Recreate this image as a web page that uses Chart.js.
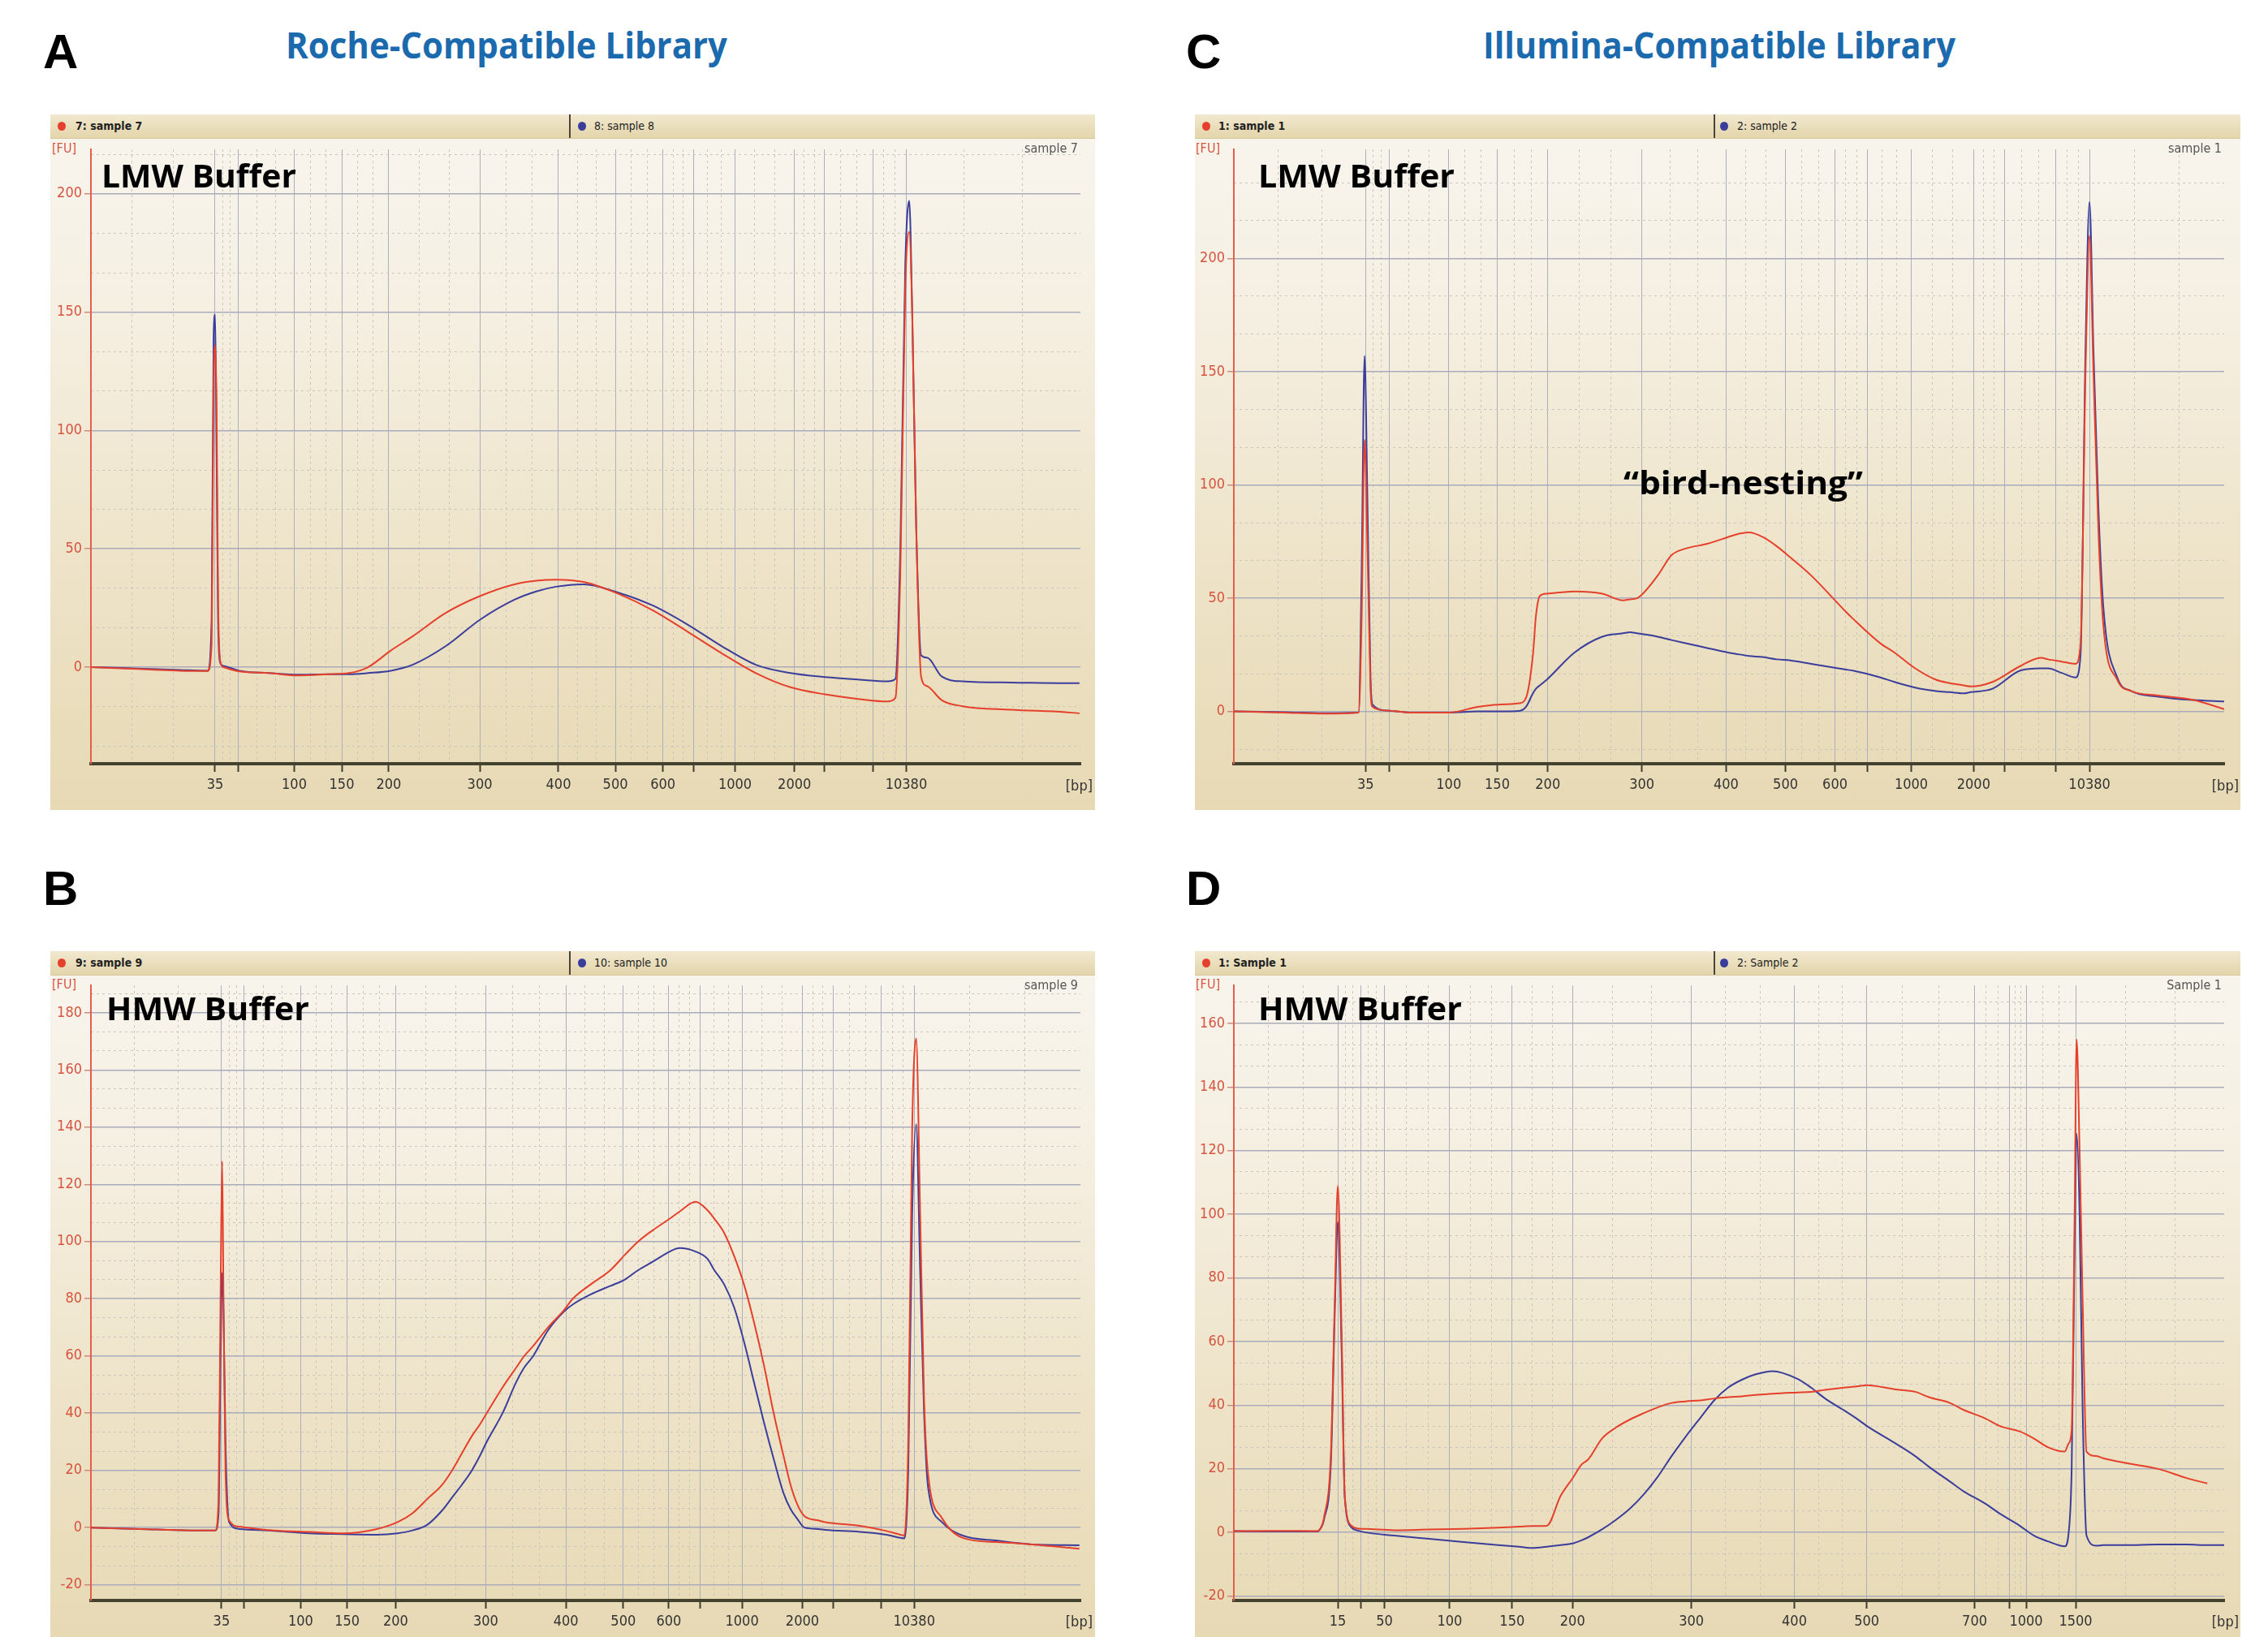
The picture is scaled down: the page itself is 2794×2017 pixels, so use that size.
<!DOCTYPE html>
<html>
<head>
<meta charset="utf-8">
<title>Bioanalyzer electropherograms</title>
<script src="https://cdn.jsdelivr.net/npm/chart.js@4.4.1/dist/chart.umd.min.js"></script>
<style>
html,body{margin:0;padding:0;background:#fff;}
body{position:relative;width:2794px;height:2017px;overflow:hidden;font-family:"Open Sans",sans-serif;}
.t{position:absolute;white-space:nowrap;line-height:1;transform-origin:0 0;}
.letter{font-family:"Liberation Sans",Arial,sans-serif;font-weight:700;font-size:60px;color:#000;}
.title{font-family:"Open Sans",sans-serif;font-weight:700;font-size:45px;color:#1b6aad;}
.buf{font-family:"Open Sans",sans-serif;font-weight:700;font-size:40px;color:#000;}
.panel{position:absolute;background:linear-gradient(to bottom,#f8f5ee 0%,#f5efe1 30%,#eee4ca 62%,#e7d9b4 100%);}
.hdr{position:absolute;left:0;right:0;top:0;height:29px;background:linear-gradient(to bottom,#f1e8cf,#e3d5ab);border-bottom:1px solid #d6c79e;font-family:"DejaVu Sans Condensed","DejaVu Sans",sans-serif;font-size:14px;color:#222;}
.hdr span{position:absolute;top:0;line-height:29px;white-space:nowrap;}
.dot{position:absolute;top:9px;width:10px;height:11px;border-radius:50%;}
.sep{position:absolute;top:0;width:2px;height:29px;background:#4a4538;}
.small{font-family:"DejaVu Sans Condensed","DejaVu Sans",sans-serif;font-size:16px;}
canvas{position:absolute;left:0;top:0;}
</style>
</head>
<body>

<div class="t letter" style="left:53px;top:34px;">A</div>
<div class="t letter" style="left:1461px;top:34px;">C</div>
<div class="t letter" style="left:53px;top:1065px;">B</div>
<div class="t letter" style="left:1461px;top:1065px;">D</div>
<div class="t title fit" data-w="544" style="left:352px;top:32px;">Roche-Compatible Library</div>
<div class="t title fit" data-w="582" style="left:1827px;top:32px;">Illumina-Compatible Library</div>

<!-- Panel A -->
<div class="panel" style="left:62px;top:141px;width:1287px;height:857px;">
  <canvas id="chartA" width="1287" height="857"></canvas>
  <div class="hdr">
    <div class="dot" style="left:9px;background:#e5402b;"></div>
    <span style="left:31px;font-weight:bold;">7: sample 7</span>
    <div class="sep" style="left:639px;"></div>
    <div class="dot" style="left:650px;background:#3b3d9b;"></div>
    <span style="left:670px;">8: sample 8</span>
  </div>
  <div class="t small" style="left:2px;top:34px;color:#d6543f;">[FU]</div>
  <div class="t small" style="right:21px;top:34px;color:#555;">sample 7</div>
  <div class="t small" style="right:3px;top:818px;color:#333;font-size:18px;">[bp]</div>
  <div class="t buf fit" data-w="240" style="left:63px;top:55px;">LMW Buffer</div>
</div>

<!-- Panel C -->
<div class="panel" style="left:1472px;top:141px;width:1288px;height:857px;">
  <canvas id="chartC" width="1288" height="857"></canvas>
  <div class="hdr">
    <div class="dot" style="left:9px;background:#e5402b;"></div>
    <span style="left:29px;font-weight:bold;">1: sample 1</span>
    <div class="sep" style="left:639px;"></div>
    <div class="dot" style="left:647px;background:#3b3d9b;"></div>
    <span style="left:668px;">2: sample 2</span>
  </div>
  <div class="t small" style="left:1px;top:34px;color:#d6543f;">[FU]</div>
  <div class="t small" style="right:23px;top:34px;color:#555;">sample 1</div>
  <div class="t small" style="right:2px;top:818px;color:#333;font-size:18px;">[bp]</div>
  <div class="t buf fit" data-w="242" style="left:78px;top:55px;">LMW Buffer</div>
  <div class="t buf fit" data-w="295" style="left:528px;top:433px;">“bird-nesting”</div>
</div>

<!-- Panel B -->
<div class="panel" style="left:62px;top:1172px;width:1287px;height:845px;">
  <canvas id="chartB" width="1287" height="845"></canvas>
  <div class="hdr">
    <div class="dot" style="left:9px;background:#e5402b;"></div>
    <span style="left:31px;font-weight:bold;">9: sample 9</span>
    <div class="sep" style="left:639px;"></div>
    <div class="dot" style="left:650px;background:#3b3d9b;"></div>
    <span style="left:670px;">10: sample 10</span>
  </div>
  <div class="t small" style="left:2px;top:33px;color:#d6543f;">[FU]</div>
  <div class="t small" style="right:21px;top:34px;color:#555;">sample 9</div>
  <div class="t small" style="right:3px;top:817px;color:#333;font-size:18px;">[bp]</div>
  <div class="t buf fit" data-w="250" style="left:69px;top:50px;">HMW Buffer</div>
</div>

<!-- Panel D -->
<div class="panel" style="left:1472px;top:1172px;width:1288px;height:845px;">
  <canvas id="chartD" width="1288" height="845"></canvas>
  <div class="hdr">
    <div class="dot" style="left:9px;background:#e5402b;"></div>
    <span style="left:29px;font-weight:bold;">1: Sample 1</span>
    <div class="sep" style="left:639px;"></div>
    <div class="dot" style="left:647px;background:#3b3d9b;"></div>
    <span style="left:668px;">2: Sample 2</span>
  </div>
  <div class="t small" style="left:1px;top:33px;color:#d6543f;">[FU]</div>
  <div class="t small" style="right:23px;top:34px;color:#555;">Sample 1</div>
  <div class="t small" style="right:2px;top:817px;color:#333;font-size:18px;">[bp]</div>
  <div class="t buf fit" data-w="251" style="left:78px;top:50px;">HMW Buffer</div>
</div>

<script>
// ================= DATA =================
// x = migration position (% of the run window shown), y = fluorescence [FU]

// ---- Panel A : Roche-compatible library, LMW buffer ----
const aTickPos    = [12.55, 14.85, 20.55, 25.35, 30.1, 39.3, 47.25, 53.0, 57.8, 60.9, 65.1, 71.1, 74.1, 79.0, 82.4];
const aTickLabels = ['35', '', '100', '150', '200', '300', '400', '500', '600', '', '1000', '2000', '', '', '10380'];
const aYTicks = [0, 50, 100, 150, 200];
const aPos     = [0, 3, 6, 9, 11.8, 12.2, 12.4, 12.55, 12.7, 12.85, 13.1, 13.4, 15, 18, 21, 24, 26.1, 28, 30.3, 32.5, 35.9, 39.3, 42.8, 45, 47, 49.8, 53.3, 56.8, 60.3, 63.7, 67.2, 70.7, 74.2, 77.7, 80.5, 81.3, 81.8, 82.3, 82.7, 83.0, 83.4, 83.9, 84.5, 86.0, 88.1, 93, 98.5, 99.9];
const aSample7 = [0, -0.5, -1, -1.5, -1.6, 10, 120, 136, 110, 30, 2, 0, -1.8, -2.5, -3.5, -3, -2.5, 0, 7, 13, 23, 30, 35, 36.5, 37, 36, 31, 24, 15, 6, -2.5, -8.5, -11.5, -13.5, -14.5, -13, 40, 160, 184, 150, 60, -4, -8, -14, -16.5, -18, -19, -19.5];
const aSample8 = [0, -0.3, -0.8, -1.2, -1.5, 20, 140, 149, 90, 20, 1.5, 0.5, -1.5, -2.5, -3.2, -3, -3, -2.5, -1.5, 1, 9, 20, 28.5, 32, 34, 35, 31.5, 26, 18, 9, 1, -2.5, -4.2, -5.3, -6, -5, 50, 170, 197, 150, 60, 5, 4, -4, -6, -6.5, -6.8, -6.8];

// ---- Panel C : Illumina-compatible library, LMW buffer ----
const cTickPos    = [13.3, 15.66, 21.7, 26.6, 31.7, 41.2, 49.7, 55.7, 60.7, 64.0, 68.4, 74.7, 77.8, 83.0, 86.4];
const cTickLabels = ['35', '', '100', '150', '200', '300', '400', '500', '600', '', '1000', '2000', '', '', '10380'];
const cYTicks = [0, 50, 100, 150, 200];
const cPos     = [0, 5, 9.1, 12.6, 12.9, 13.2, 13.5, 13.8, 14.0, 15.5, 18, 21.8, 24.6, 26.7, 28.8, 29.5, 30.2, 30.5, 30.9, 31.6, 34.4, 37.2, 39.3, 40.0, 40.7, 42.8, 44.2, 45.7, 47.8, 49.9, 50.6, 52.0, 53.4, 54.8, 56.2, 58.3, 61.8, 62.5, 65.3, 66.7, 68.8, 70.9, 72.3, 73.7, 74.4, 76.6, 79.4, 81.5, 82.2, 83.6, 85.0, 85.5, 86.0, 86.4, 86.8, 87.3, 87.8, 89.2, 90.6, 93.4, 96.9, 100];
const cSample1 = [0, -0.5, -1, -0.5, 40, 120, 70, 10, 2, 0.4, -0.5, -0.5, 2, 3, 3.6, 6, 25, 42, 51, 52, 53, 52, 49, 49.5, 50, 60, 69, 72, 74, 77, 78, 79, 77, 73, 68, 60, 44, 41, 30, 26, 19, 14, 12.5, 11.5, 11, 13, 20, 23.7, 23, 22, 21, 30, 150, 210, 150, 80, 38, 14, 9, 7, 5, 1];
const cSample2 = [0, -0.3, -0.8, -0.5, 60, 157, 90, 15, 3, 0.4, -0.5, -0.5, 0, 0, 0.2, 2, 8, 10, 11.5, 14, 26, 33, 34.5, 35, 34.5, 33, 31.5, 30, 28, 26, 25.5, 24.5, 24, 23, 22.5, 21, 18.5, 18, 15, 13, 10.5, 9, 8.5, 8, 8.5, 10, 18, 19, 19, 17, 15, 25, 160, 225, 160, 90, 46, 15, 9, 6.5, 5, 4.4];

// ---- Panel B : Roche-compatible library, HMW buffer ----
const bTickPos    = [13.2, 15.5, 21.2, 25.9, 30.8, 39.9, 48.0, 53.8, 58.4, 61.6, 65.8, 71.9, 75.0, 79.9, 83.2];
const bTickLabels = ['35', '', '100', '150', '200', '300', '400', '500', '600', '', '1000', '2000', '', '', '10380'];
const bYTicks = [-20, 0, 20, 40, 60, 80, 100, 120, 140, 160, 180];
const bPos      = [0, 5, 10, 12.57, 12.9, 13.1, 13.26, 13.4, 13.6, 13.96, 15.0, 18.5, 22.0, 25.5, 28.9, 31.0, 32.5, 34.0, 35.5, 36.5, 37.5, 38.5, 39.3, 40.0, 41.6, 43.0, 43.8, 44.7, 46.2, 47.8, 48.7, 50.5, 52.5, 54.0, 55.3, 56.8, 58.5, 59.5, 61.1, 62.3, 63.0, 64.0, 65.0, 66.0, 67.0, 68.0, 69.0, 70.0, 70.7, 71.4, 72.1, 73.5, 74.2, 77.7, 80.4, 81.8, 82.2, 82.6, 83.0, 83.4, 83.8, 84.2, 84.6, 86.0, 88.1, 91.6, 95.1, 99.9];
const bSample9  = [0, -0.5, -1, -1, 10, 80, 128, 80, 20, 2.6, 0.3, -1, -1.5, -2, -0.5, 1.9, 5, 10, 15, 20, 26, 32, 36, 40, 49, 56, 60, 63.5, 70, 76, 80, 85, 90, 95.5, 100, 104, 108, 110.5, 113.9, 111, 108, 103, 95, 85, 72, 57, 40, 25, 15, 8, 4, 2.5, 1.9, 0.6, -1.2, -2.5, -2.8, 30, 140, 171, 110, 45, 18.9, 3.4, -3.6, -5.1, -5.9, -7.4];
const bSample10 = [0, -0.5, -1, -1, 5, 60, 89, 75, 30, 2, -0.5, -1.2, -2, -2.3, -2.5, -2, -1, 1, 6, 10.5, 15, 20, 25, 30, 40, 51, 56, 60, 69, 75.5, 78, 81.5, 84.5, 86.8, 90, 93, 96.5, 97.7, 96.5, 94, 90, 85, 77, 65, 51, 37, 24, 12, 6.5, 3, 0, -0.5, -0.8, -1.5, -2.5, -3.6, -3.8, 20, 110, 141, 90, 40, 14.2, 1.9, -2.8, -4.6, -5.9, -6.2];

// ---- Panel D : Illumina-compatible library, HMW buffer ----
const dTickPos    = [10.5, 12.8, 15.2, 21.8, 28.1, 34.2, 46.2, 56.6, 63.9, 74.8, 78.3, 80.0, 85.0];
const dTickLabels = ['15', '', '50', '100', '150', '200', '300', '400', '500', '700', '', '1000', '1500'];
const dYTicks = [-20, 0, 20, 40, 60, 80, 100, 120, 140, 160];
const dPos     = [0, 4, 8.4, 8.8, 9.1, 9.8, 10.2, 10.5, 10.9, 11.2, 11.9, 12.6, 13.3, 16.2, 19.7, 23.2, 26.7, 28.8, 30.2, 31.6, 33.0, 34.2, 35.1, 35.8, 37.2, 38.6, 40.0, 41.4, 42.8, 44.2, 45.6, 47.1, 48.5, 49.9, 51.3, 52.7, 54.4, 56.9, 58.3, 59.7, 61.8, 63.2, 63.9, 66.7, 68.8, 70.2, 72.3, 73.7, 75.9, 77.3, 79.4, 80.8, 82.2, 83.9, 84.3, 84.6, 84.9, 85.1, 85.4, 85.7, 86.1, 87.1, 87.8, 89.9, 93.4, 96.2, 98.3, 100];
const dSample1 = [0.4, 0.5, 0.4, 1.5, 4.6, 25, 74, 109, 60, 11.5, 2, 1.2, 1.1, 0.7, 0.9, 1.1, 1.5, 1.8, 2, 2.1, 11.5, 17, 21.3, 23, 29.6, 33, 35.5, 37.5, 39.3, 40.7, 41.2, 41.5, 42.1, 42.5, 42.8, 43.2, 43.6, 44, 44.2, 44.8, 45.6, 46, 46.3, 45, 44.2, 42.5, 40.7, 38.5, 35.8, 33.5, 31.7, 29.5, 26.8, 25.4, 28, 32.4, 100, 155, 120, 74, 25.4, 24, 23.3, 21.9, 19.9, 17.1, 15.4, null];
const dSample2 = [0.4, 0.3, 0.3, 1.5, 4, 22, 70, 97.6, 55, 11, 1.5, 0.5, 0, -1, -2, -3, -4, -4.5, -4.9, -4.5, -4, -3.5, -2.5, -1.5, 1, 4, 7.5, 12, 17.5, 24, 30, 36, 41.5, 45.5, 48, 49.7, 50.7, 48.3, 45.5, 42.1, 38, 35.1, 33.5, 28.2, 24, 20.6, 16, 12.9, 9, 6, 2, -1, -2.8, -4.4, 0, 20, 90, 125.4, 100, 40, -1, -4.2, -4, -4, -3.8, -3.8, -4, -4];

// ================= DRAWING =================
const RED = '#e5402b', BLUE = '#3b3d9b';
const AX_FONT = '"DejaVu Sans Condensed","DejaVu Sans",sans-serif';

function drawPanel(id, c) {
  const pts = ys => c.pos.map((x, i) => ({x: x, y: ys[i]}));
  // dotted minor grid positions (thirds between adjacent ticks)
  const edges = [0].concat(c.ticks, [100]);
  const minorX = [];
  for (let i = 0; i < edges.length - 1; i++) {
    const a = edges[i], b = edges[i + 1];
    if (b - a > 1.5) { minorX.push(a + (b - a) / 3, a + 2 * (b - a) / 3); }
  }
  const st = c.yStep / 3, minorY = [];
  for (let k = Math.ceil(c.yMin / st); k * st <= c.yMax; k++) { if (k % 3 !== 0) minorY.push(k * st); }

  const line = (label, data, color) => ({
    label, data, borderColor: color, borderWidth: 2, pointRadius: 0,
    cubicInterpolationMode: 'monotone', fill: false, xAxisID: 'x', yAxisID: 'y'
  });

  new Chart(document.getElementById(id), {
    type: 'line',
    data: { datasets: [ line(c.names[0], pts(c.red), RED), line(c.names[1], pts(c.blue), BLUE) ] },
    options: {
      responsive: false, animation: false, devicePixelRatio: 1,
      layout: { padding: { left: 0, top: c.padTop, right: c.padRight, bottom: 0 } },
      plugins: { legend: { display: false }, tooltip: { enabled: false } },
      scales: {
        x: {
          type: 'linear', position: 'bottom', min: 0, max: 100, bounds: 'data',
          afterFit: s => { s.height = c.xHeight; },
          afterBuildTicks: s => { s.ticks = c.ticks.map(v => ({ value: v })); },
          ticks: { autoSkip: false, maxRotation: 0, minRotation: 0, padding: 6, color: '#333',
                   font: { family: AX_FONT, size: 18 }, callback: (v, i) => c.labels[i] },
          grid: { color: '#aeafbd', lineWidth: 1, drawTicks: true, tickLength: 10, tickColor: '#3f3c30', tickWidth: 2 },
          border: { display: true, color: '#45412f', width: 4 }
        },
        xm: {
          type: 'linear', position: 'bottom', min: 0, max: 100, bounds: 'data',
          afterFit: s => { s.height = 0; },
          afterBuildTicks: s => { s.ticks = minorX.map(v => ({ value: v })); },
          ticks: { display: false },
          grid: { color: '#c9c6bd', lineWidth: 1, drawTicks: false },
          border: { display: false, dash: [3, 4] }
        },
        y: {
          type: 'linear', position: 'left', min: c.yMin, max: c.yMax, bounds: 'data',
          afterFit: s => { s.width = c.yWidth; },
          afterBuildTicks: s => { s.ticks = c.yTicks.map(v => ({ value: v })); },
          ticks: { padding: 3, color: '#d6543f', font: { family: AX_FONT, size: 18 } },
          grid: { color: '#a9abbb', lineWidth: 1.5, drawTicks: true, tickLength: 8, tickColor: '#cf8a7c', tickWidth: 1.5 },
          border: { display: true, color: '#e2604b', width: 2 }
        },
        ym: {
          type: 'linear', position: 'left', min: c.yMin, max: c.yMax, bounds: 'data',
          afterFit: s => { s.width = 0; },
          afterBuildTicks: s => { s.ticks = minorY.map(v => ({ value: v })); },
          ticks: { display: false },
          grid: { color: '#c9c6bd', lineWidth: 1, drawTicks: false },
          border: { display: false, dash: [3, 4] }
        }
      }
    }
  });
}

drawPanel('chartA', { pos: aPos, red: aSample7, blue: aSample8, names: ['7: sample 7', '8: sample 8'],
  ticks: aTickPos, labels: aTickLabels, yTicks: aYTicks, yMin: -40.8, yMax: 218.8, yStep: 50,
  padTop: 43, padRight: 18, xHeight: 57, yWidth: 50 });
drawPanel('chartC', { pos: cPos, red: cSample1, blue: cSample2, names: ['1: sample 1', '2: sample 2'],
  ticks: cTickPos, labels: cTickLabels, yTicks: cYTicks, yMin: -23.1, yMax: 248.2, yStep: 50,
  padTop: 43, padRight: 20, xHeight: 57, yWidth: 48 });
drawPanel('chartB', { pos: bPos, red: bSample9, blue: bSample10, names: ['9: sample 9', '10: sample 10'],
  ticks: bTickPos, labels: bTickLabels, yTicks: bYTicks, yMin: -25.5, yMax: 189.6, yStep: 20,
  padTop: 42, padRight: 18, xHeight: 45, yWidth: 50 });
drawPanel('chartD', { pos: dPos, red: dSample1, blue: dSample2, names: ['1: Sample 1', '2: Sample 2'],
  ticks: dTickPos, labels: dTickLabels, yTicks: dYTicks, yMin: -21.4, yMax: 172, yStep: 20,
  padTop: 42, padRight: 20, xHeight: 45, yWidth: 48 });

// fit display texts to the measured widths of the original
document.querySelectorAll('.fit').forEach(el => {
  const w = el.getBoundingClientRect().width;
  const target = parseFloat(el.dataset.w);
  if (w > 0) el.style.transform = 'scaleX(' + (target / w).toFixed(4) + ')';
});
</script>
</body>
</html>
